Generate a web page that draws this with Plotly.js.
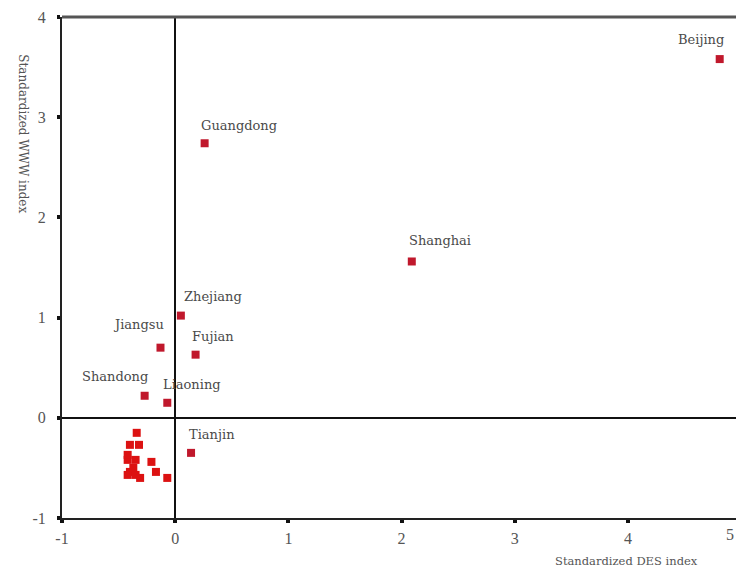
<!DOCTYPE html>
<html>
<head>
<meta charset="utf-8">
<script src="https://cdn.plot.ly/plotly-3.0.1.min.js"></script>
<style>html,body{margin:0;padding:0;background:#fff;}#chart{width:736px;height:572px;}</style>
</head>
<body>
<div id="chart"></div>
<script>
// Labelled provinces
const labelNames = ["Beijing", "Guangdong", "Shanghai", "Zhejiang", "Jiangsu", "Fujian", "Shandong", "Liaoning", "Tianjin"];
const labelDES   = [4.81, 0.26, 2.09, 0.05, -0.13, 0.18, -0.27, -0.07, 0.14];
const labelWWW   = [3.58, 2.74, 1.56, 1.02, 0.70, 0.63, 0.22, 0.15, -0.35];

// Unlabelled provinces (cluster)
const otherDES = [-0.34, -0.40, -0.32, -0.42, -0.35, -0.40, -0.35, -0.31, -0.21, -0.17, -0.07, -0.42, -0.37, -0.42];
const otherWWW = [-0.15, -0.27, -0.27, -0.42, -0.42, -0.54, -0.57, -0.60, -0.44, -0.54, -0.60, -0.57, -0.50, -0.37];

const xTicks = [-1, 0, 1, 2, 3, 4];
const yTicks = [-1, 0, 1, 2, 3, 4];
const xLastTick = "5";

const xTitle = "Standardized DES index";
const yTitle = "Standardized WWW index";

// label placement styles (pixel offsets relative to marker)
const labelStyle = {
  "Beijing":   {xanchor: "right", xshift: 6,  yshift: 10},
  "Guangdong": {xanchor: "left",  xshift: -6, yshift: 8},
  "Shanghai":  {xanchor: "left",  xshift: -5, yshift: 11},
  "Zhejiang":  {xanchor: "left",  xshift: 1,  yshift: 10},
  "Jiangsu":   {xanchor: "right", xshift: 6,  yshift: 14},
  "Fujian":    {xanchor: "left",  xshift: -6, yshift: 9},
  "Shandong":  {xanchor: "right", xshift: 5,  yshift: 10},
  "Liaoning":  {xanchor: "left",  xshift: -6, yshift: 9},
  "Tianjin":   {xanchor: "left",  xshift: -4, yshift: 9}
};

const serif = "Times New Roman, Liberation Serif, serif";
const wideSerif = "DejaVu Serif, serif";

const traces = [
  {
    type: "scatter", mode: "markers",
    x: otherDES, y: otherWWW,
    marker: {symbol: "square", size: 8, color: "#dc1212"},
    hoverinfo: "x+y", showlegend: false
  },
  {
    type: "scatter", mode: "markers",
    x: labelDES, y: labelWWW, text: labelNames,
    marker: {symbol: "square", size: 8, color: "#c0182c"},
    hoverinfo: "text+x+y", showlegend: false
  }
];

const annotations = labelNames.map((n, i) => Object.assign({
  x: labelDES[i], y: labelWWW[i], xref: "x", yref: "y",
  text: n, showarrow: false, yanchor: "bottom",
  font: {family: wideSerif, size: 13, color: "#4a4a4a"}
}, labelStyle[n]));

annotations.push({
  xref: "paper", yref: "paper", x: 0.838, y: -0.068, xanchor: "center", yanchor: "top",
  text: xTitle, showarrow: false, font: {family: wideSerif, size: 11.5, color: "#555"}
});
annotations.push({
  xref: "paper", yref: "paper", x: -0.058, y: 0.766, xanchor: "center", yanchor: "middle",
  text: yTitle, textangle: 90, showarrow: false, font: {family: wideSerif, size: 12, color: "#555"}
});
annotations.push({
  xref: "paper", yref: "paper", x: 1.0, y: -0.012, xanchor: "right", yanchor: "top",
  text: xLastTick, showarrow: false, font: {family: serif, size: 16, color: "#555"}
});

const layout = {
  width: 736, height: 572,
  margin: {l: 62, r: 0, t: 17, b: 54},
  paper_bgcolor: "#fff", plot_bgcolor: "#fff",
  showlegend: false,
  xaxis: {
    range: [-1, 4.954], tickvals: xTicks, ticktext: xTicks.map(String),
    showgrid: false, zeroline: true, zerolinecolor: "#111", zerolinewidth: 2,
    showline: true, linecolor: "#222", linewidth: 2,
    ticks: "outside", ticklen: 3, tickwidth: 4, tickcolor: "#111",
    ticklabelstandoff: 2,
    tickfont: {family: serif, size: 16, color: "#555"}
  },
  yaxis: {
    range: [-1, 4], tickvals: yTicks, ticktext: yTicks.map(String),
    showgrid: false, zeroline: true, zerolinecolor: "#111", zerolinewidth: 2,
    showline: true, linecolor: "#222", linewidth: 2,
    ticks: "outside", ticklen: 3, tickwidth: 4, tickcolor: "#111",
    ticklabelstandoff: 8,
    tickfont: {family: serif, size: 16, color: "#555"}
  },
  shapes: [
    {type: "line", xref: "paper", yref: "paper", x0: 0, x1: 1, y0: 1, y1: 1,
     line: {color: "#555", width: 3}}
  ],
  annotations: annotations
};

Plotly.newPlot("chart", traces, layout, {displayModeBar: false, staticPlot: true});
</script>
</body>
</html>
